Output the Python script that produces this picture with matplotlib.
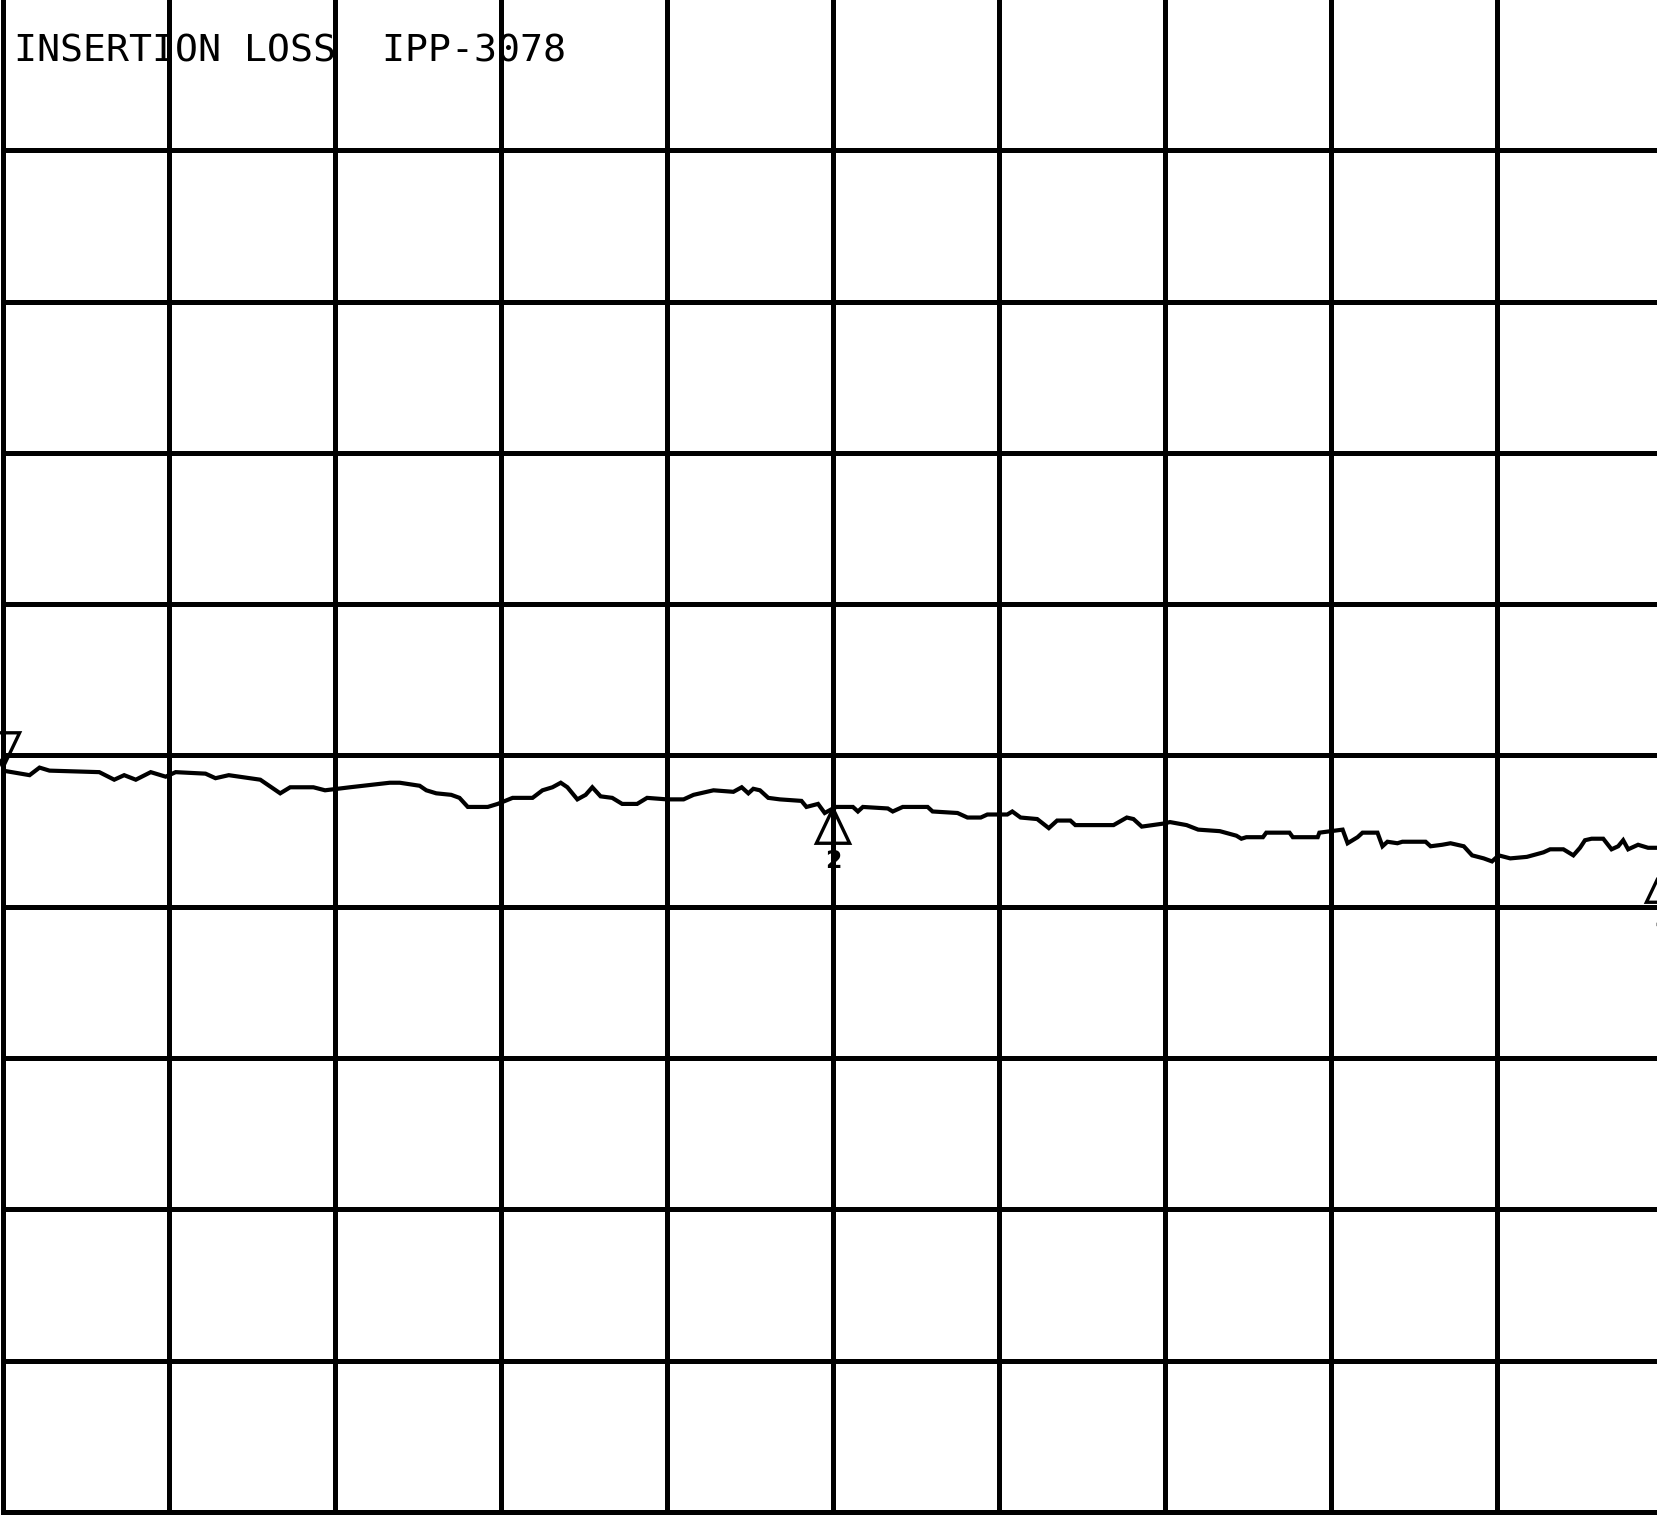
# insertion loss screen plot, redrawn from a plotter printout
import numpy as np
import matplotlib
matplotlib.use('Agg')
import matplotlib.pyplot as plt
from matplotlib.patches import Polygon

# figure size in pixels at 100 dpi
width 	= 16.58
height 	= 15.16

title 	= 'INSERTION LOSS  IPP-3078'

# trace, in screen divisions (10 x 10 graticule)
trace_x = [0.00, 0.16, 0.22, 0.28, 0.58, 0.67, 0.73, 0.80, 0.89, 0.98,
           1.04, 1.22, 1.28, 1.36, 1.55, 1.67, 1.73, 1.87, 1.94, 2.09,
           2.33, 2.39, 2.51, 2.55, 2.61, 2.70, 2.75, 2.80, 2.92, 2.98,
           3.07, 3.19, 3.25, 3.31, 3.36, 3.40, 3.46, 3.51, 3.55, 3.60,
           3.67, 3.73, 3.82, 3.88, 4.00, 4.10, 4.16, 4.28, 4.40, 4.45,
           4.49, 4.52, 4.56, 4.61, 4.68, 4.81, 4.84, 4.91, 4.95, 5.00,
           5.02, 5.12, 5.15, 5.18, 5.33, 5.36, 5.42, 5.57, 5.60, 5.75,
           5.81, 5.89, 5.93, 6.05, 6.08, 6.13, 6.23, 6.30, 6.35, 6.43,
           6.46, 6.69, 6.77, 6.81, 6.86, 6.99, 7.03, 7.13, 7.20, 7.33,
           7.43, 7.46, 7.49, 7.59, 7.61, 7.75, 7.77, 7.92, 7.93, 8.07,
           8.10, 8.16, 8.19, 8.28, 8.31, 8.34, 8.40, 8.43, 8.57, 8.60,
           8.67, 8.72, 8.80, 8.85, 8.92, 8.97, 9.01, 9.08, 9.18, 9.28,
           9.32, 9.40, 9.46, 9.50, 9.53, 9.57, 9.64, 9.69, 9.73, 9.76,
           9.79, 9.85, 9.91, 9.97, 10.00]
trace_y = [4.90, 4.87, 4.92, 4.90, 4.89, 4.84, 4.87, 4.84, 4.89, 4.86,
           4.89, 4.88, 4.85, 4.87, 4.84, 4.75, 4.79, 4.79, 4.77, 4.79,
           4.82, 4.82, 4.80, 4.77, 4.75, 4.74, 4.72, 4.66, 4.66, 4.68,
           4.72, 4.72, 4.77, 4.79, 4.82, 4.79, 4.71, 4.74, 4.79, 4.73,
           4.72, 4.68, 4.68, 4.72, 4.71, 4.71, 4.74, 4.77, 4.76, 4.79,
           4.75, 4.78, 4.77, 4.72, 4.71, 4.70, 4.66, 4.68, 4.62, 4.65,
           4.66, 4.66, 4.63, 4.66, 4.65, 4.63, 4.66, 4.66, 4.63, 4.62,
           4.59, 4.59, 4.61, 4.61, 4.63, 4.59, 4.58, 4.52, 4.57, 4.57,
           4.54, 4.54, 4.59, 4.58, 4.53, 4.55, 4.56, 4.54, 4.51, 4.50,
           4.47, 4.45, 4.46, 4.46, 4.49, 4.49, 4.46, 4.46, 4.49, 4.51,
           4.42, 4.46, 4.49, 4.49, 4.40, 4.43, 4.42, 4.43, 4.43, 4.40,
           4.41, 4.42, 4.40, 4.34, 4.32, 4.30, 4.34, 4.32, 4.33, 4.36,
           4.38, 4.38, 4.34, 4.39, 4.44, 4.45, 4.45, 4.38, 4.40, 4.44,
           4.38, 4.41, 4.39, 4.39, 4.39]

# markers: position of the tip, direction (-1 points down, +1 points up), label
marker_x 	= [0.0, 5.0, 10.0]
marker_y 	= [4.92, 4.65, 4.26]
marker_dir 	= [-1, 1, 1]
marker_lbl 	= ['', '2', '3']

tri_half 	= 0.10
tri_high 	= 0.23

fig = plt.figure(figsize=(width, height), dpi=100)
ax = fig.add_axes([3 / 1658, 4 / 1516, 1660 / 1658, 1513 / 1516])
ax.set_xlim(0, 10)
ax.set_ylim(0, 10)

# graticule
ax.set_xticks(np.arange(0, 11))
ax.set_yticks(np.arange(0, 11))
ax.tick_params(length=0, labelbottom=False, labelleft=False)
ax.grid(True, color='k', linewidth=3.6)
ax.set_axisbelow(True)
for s in ax.spines.values():
	s.set_linewidth(3.6)
	s.set_color('k')

# the trace
ax.plot(trace_x, trace_y, color='k', linewidth=3.0, solid_joinstyle='miter')

# marker triangles and numbers
for mx, my, md, lbl in zip(marker_x, marker_y, marker_dir, marker_lbl):
	base = my - md * tri_high
	tri = Polygon([[mx, my], [mx - tri_half, base], [mx + tri_half, base]],
	              closed=True, fill=False, edgecolor='k', linewidth=2.4,
	              clip_on=False, zorder=5)
	ax.add_patch(tri)
	if lbl:
		ax.text(mx, base - 0.04, lbl, ha='center', va='top', fontsize=17,
		        fontweight='bold', family='DejaVu Sans', clip_on=False, zorder=5)

fig.text(14 / 1658, 1 - 62 / 1516, title, family='DejaVu Sans Mono',
         fontsize=27.5, ha='left', va='baseline', color='k')

plt.savefig('out.png', dpi=100)
plt.close()
